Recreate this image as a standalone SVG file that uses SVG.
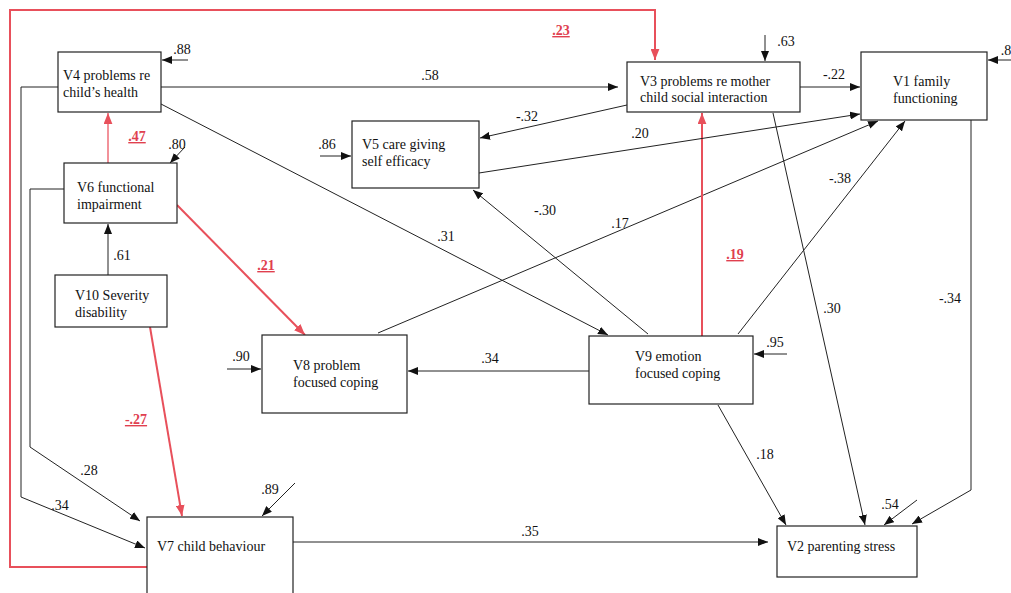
<svg xmlns="http://www.w3.org/2000/svg" width="1011" height="593" viewBox="0 0 1011 593">
<style>
text{font-family:'Liberation Serif','Times New Roman',serif;font-size:14px;fill:#111}
.n rect{fill:#fff;stroke:#222;stroke-width:1.2}
.l{text-anchor:middle}
.r{fill:#e0404f;font-weight:bold;text-decoration:underline}
.c path{fill:none;stroke:#222;stroke-width:1}
.c path.red{stroke:#e8505b;stroke-width:2}
.c path.red1{stroke:#ee6e78;stroke-width:1.5}
</style>
<defs>
<marker id="a" viewBox="0 0 10 8" refX="10" refY="4" markerWidth="10" markerHeight="8" markerUnits="userSpaceOnUse" orient="auto"><path d="M0,0L10,4L0,8z" fill="#111"/></marker>
<marker id="ar" viewBox="0 0 10 8" refX="10" refY="4" markerWidth="11" markerHeight="9" markerUnits="userSpaceOnUse" orient="auto"><path d="M0,0L10,4L0,8z" fill="#e8505b"/></marker>
</defs>
<rect width="1011" height="593" fill="#fff"/>
<g class="c" id="connectors">
<path class="red" d="M147,567H10V10H655V60" marker-end="url(#ar)"/>
<path d="M188,60H162" marker-end="url(#a)"/>
<path d="M161,87H618" marker-end="url(#a)"/>
<path d="M161,104L608,335" marker-end="url(#a)"/>
<path d="M58,87H21V497L145,548" marker-end="url(#a)"/>
<path d="M64,189H30V447L140,521" marker-end="url(#a)"/>
<path class="red1" d="M108,163V113" marker-end="url(#ar)"/>
<path d="M185,147L170,163" marker-end="url(#a)"/>
<path d="M108,275V224" marker-end="url(#a)"/>
<path class="red" d="M177,205L305,335" marker-end="url(#ar)"/>
<path class="red" d="M150,327L182,516" marker-end="url(#ar)"/>
<path d="M295,483L262,516" marker-end="url(#a)"/>
<path d="M293,542H768" marker-end="url(#a)"/>
<path d="M227,369H261" marker-end="url(#a)"/>
<path d="M378,333L878,121" marker-end="url(#a)"/>
<path d="M589,371H408" marker-end="url(#a)"/>
<path d="M787,354H754" marker-end="url(#a)"/>
<path class="red" d="M702,336V113" marker-end="url(#ar)"/>
<path d="M648,334L473,190" marker-end="url(#a)"/>
<path d="M738,334L905,121" marker-end="url(#a)"/>
<path d="M718,405L786,525" marker-end="url(#a)"/>
<path d="M765,35V61" marker-end="url(#a)"/>
<path d="M800,87H860" marker-end="url(#a)"/>
<path d="M627,105L480,138" marker-end="url(#a)"/>
<path d="M773,113L865,525" marker-end="url(#a)"/>
<path d="M320,156H351" marker-end="url(#a)"/>
<path d="M479,173L860,114" marker-end="url(#a)"/>
<path d="M1011,60H988" marker-end="url(#a)"/>
<path d="M971,120V490L912,524" marker-end="url(#a)"/>
<path d="M917,500L884,525" marker-end="url(#a)"/>
</g>
<g font-family="'Liberation Serif', 'Times New Roman', serif">
<g class="n" id="V4"><rect x="58" y="52" width="103" height="60"/><text x="63" y="80">V4 problems re</text><text x="63" y="97">child’s health</text></g>
<g class="n" id="V6"><rect x="64" y="163" width="113" height="60"/><text x="77" y="192">V6 functional</text><text x="77" y="209">impairment</text></g>
<g class="n" id="V10"><rect x="55" y="275" width="112" height="52"/><text x="75" y="300">V10 Severity</text><text x="75" y="317">disability</text></g>
<g class="n" id="V7"><rect x="147" y="517" width="146" height="78"/><text x="157" y="551">V7 child behaviour</text></g>
<g class="n" id="V8"><rect x="262" y="335" width="145" height="78"/><text x="293" y="370">V8 problem</text><text x="293" y="387">focused coping</text></g>
<g class="n" id="V5"><rect x="352" y="121" width="127" height="67"/><text x="362" y="149">V5 care giving</text><text x="362" y="166">self efficacy</text></g>
<g class="n" id="V9"><rect x="589" y="336" width="164" height="68"/><text x="635" y="361">V9 emotion</text><text x="635" y="378">focused coping</text></g>
<g class="n" id="V3"><rect x="627" y="62" width="173" height="50"/><text x="640" y="86">V3 problems re mother</text><text x="640" y="102">child social interaction</text></g>
<g class="n" id="V1"><rect x="861" y="52" width="126" height="68"/><text x="893" y="86">V1 family</text><text x="893" y="103">functioning</text></g>
<g class="n" id="V2"><rect x="777" y="526" width="140" height="51"/><text x="787" y="551">V2 parenting stress</text></g>
<g id="labels">
<text class="l r" x="561" y="35">.23</text>
<text class="l" x="430" y="80">.58</text>
<text class="l" x="182" y="54">.88</text>
<text class="l r" x="137" y="141">.47</text>
<text class="l" x="177" y="149">.80</text>
<text class="l" x="327" y="149">.86</text>
<text class="l" x="527" y="121">-.32</text>
<text class="l" x="640" y="138">.20</text>
<text class="l" x="834" y="79">-.22</text>
<text class="l" x="786" y="46">.63</text>
<text class="l" x="1006" y="55">.8</text>
<text class="l r" x="266" y="270">.21</text>
<text class="l" x="122" y="260">.61</text>
<text class="l" x="446" y="241">.31</text>
<text class="l" x="545" y="215">-.30</text>
<text class="l" x="620" y="228">.17</text>
<text class="l r" x="735" y="259">.19</text>
<text class="l" x="840" y="183">-.38</text>
<text class="l" x="832" y="313">.30</text>
<text class="l" x="950" y="303">-.34</text>
<text class="l" x="241" y="361">.90</text>
<text class="l" x="490" y="363">.34</text>
<text class="l" x="775" y="347">.95</text>
<text class="l r" x="136" y="424">-.27</text>
<text class="l" x="89" y="475">.28</text>
<text class="l" x="60" y="510">.34</text>
<text class="l" x="270" y="494">.89</text>
<text class="l" x="765" y="459">.18</text>
<text class="l" x="530" y="536">.35</text>
<text class="l" x="890" y="509">.54</text>
</g>
</g>
</svg>
